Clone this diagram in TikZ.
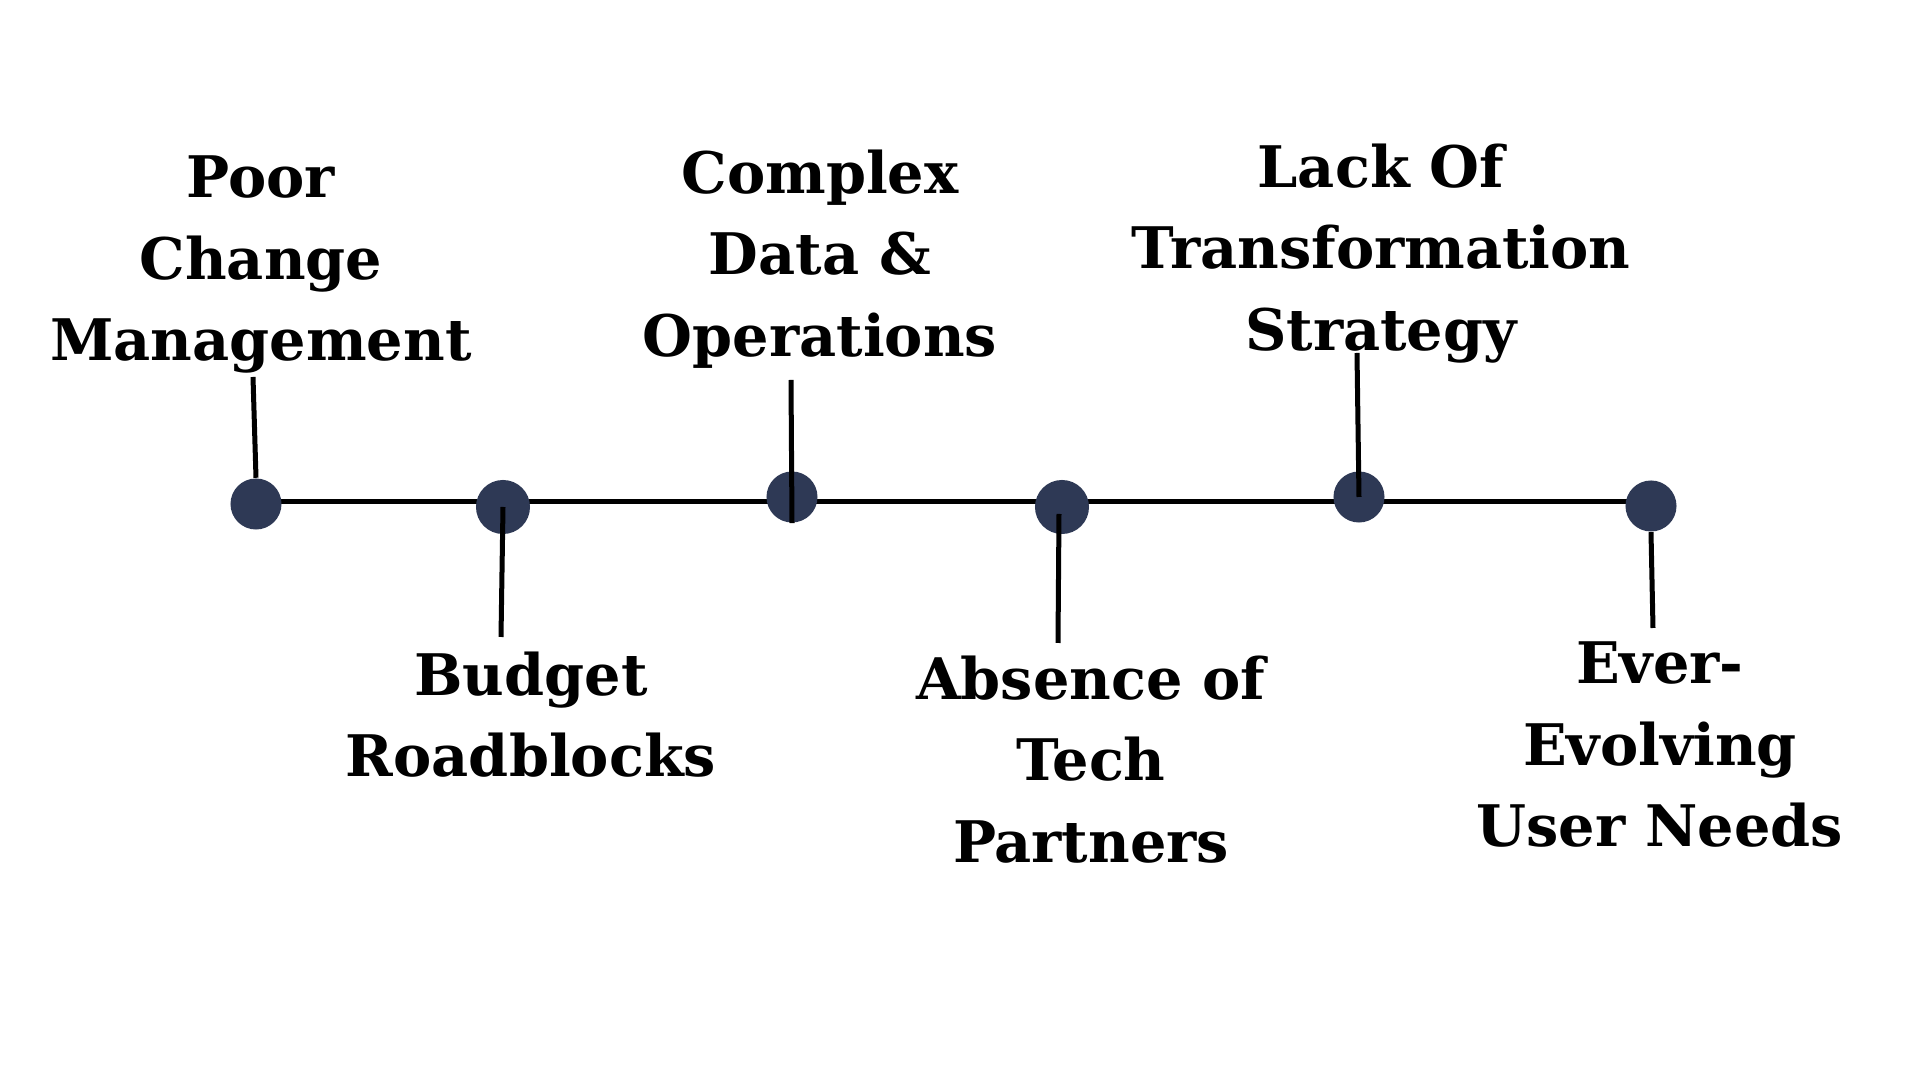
\documentclass[tikz,border=0pt]{standalone}
\usepackage{fontspec}
\setmainfont{DejaVu Serif}
\usetikzlibrary{positioning}
\definecolor{dotc}{HTML}{2E3955}
\tikzset{
  lbl/.style={anchor=north, align=center, inner sep=0pt,
              font=\bfseries\fontsize{16.3}{23.2}\selectfont},
  dotn/.style={circle, fill=dotc, minimum size=5.1mm, inner sep=0pt},
  stem/.style={line width=0.5mm, draw=black}
}
\begin{document}
\begin{tikzpicture}[x=0.01cm, y=-0.01cm]
\useasboundingbox (0,0) rectangle (1920,1080);
% timeline
\coordinate (l1) at (256,502);
\coordinate (l6) at (1651,502);
\draw[stem] (l1)--(l6);
\node[dotn] (d1) at (256,504) {};
\node[dotn, minimum size=5.4mm] (d2) at (503,507) {};
\node[dotn] (d3) at (792,497) {};
\node[dotn, minimum size=5.4mm] (d4) at (1062,507) {};
\node[dotn] (d5) at (1359,497) {};
\node[dotn] (d6) at (1651,506) {};
% labels
\node[lbl] (t1) at (261,155) {Poor\\Change\\Management};
\node[lbl] (t2) at (531,651) {Budget\\Roadblocks};
\node[lbl] (t3) at (820,149) {Complex\\Data \&\\Operations};
\node[lbl] (t4) at (1091,655) {Absence of\\Tech\\Partners};
\node[lbl] (t5) at (1381,143) {Lack Of\\Transformation\\Strategy};
\node[lbl] (t6) at (1660,641) {Ever-\\Evolving\\User Needs};
% stems
\coordinate (s1) at (253,377);
\coordinate (s2) at (501,637);
\coordinate (s3) at (791,380);
\coordinate (s4) at (1058,643);
\coordinate (s5) at (1357,353);
\coordinate (s6) at (1653,628);
\draw[stem] (s1)--(d1.north);
\draw[stem] (s2)--(d2.center);
\draw[stem] (s3)--(d3.south);
\draw[stem] (s4)--(1059,514);
\draw[stem] (s5)--(d5.center);
\draw[stem] (s6)--(d6.south);
\end{tikzpicture}
\end{document}
